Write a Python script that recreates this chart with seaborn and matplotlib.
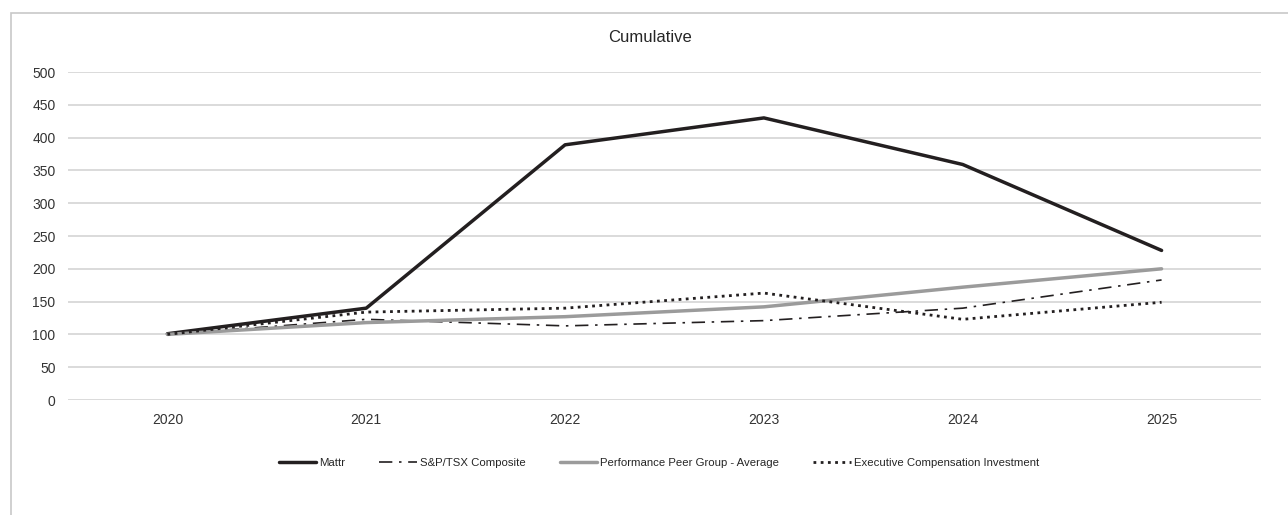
import pandas as pd
import seaborn as sns
import matplotlib.pyplot as plt
from matplotlib.patches import Rectangle

# valores (índice base 100 em 2020)
years = ['2020', '2021', '2022', '2023', '2024', '2025']
mattr = [101, 140, 389, 430, 359, 228]
sptsx = [100, 123, 113, 121, 140, 183]
peer = [100, 118, 127, 142, 172, 200]
exec_comp = [100, 134, 140, 163, 123, 149]

series_names = ['Mattr', 'S&P/TSX Composite', 'Performance Peer Group - Average',
                'Executive Compensation Investment']
series_values = [mattr, sptsx, peer, exec_comp]

sns.set_theme(style='white')
plt.rcParams['font.family'] = ['Liberation Sans', 'DejaVu Sans']

fig = plt.figure(figsize=(12.88, 5.15), dpi=100)
ax = fig.add_axes([68 / 1288, 1 - 400 / 515, (1261 - 68) / 1288, 328 / 515])

# moldura externa cinza (cortada à direita e embaixo)
fig.patches.append(Rectangle((11 / 1288, -0.2), 1.2, 1.2 - 13 / 515,
                             transform=fig.transFigure, fill=False,
                             edgecolor='#c8c8c8', linewidth=1.2, zorder=0))

estilos = {
    'Mattr': dict(color='#231f20', linewidth=2.5, linestyle='-'),
    'S&P/TSX Composite': dict(color='#231f20', linewidth=1.2, linestyle=(0, (8, 4, 1.5, 4))),
    'Performance Peer Group - Average': dict(color='#9b9b9b', linewidth=2.5, linestyle='-'),
    'Executive Compensation Investment': dict(color='#231f20', linewidth=2.0, linestyle=(0, (1, 1.6))),
}

x_idx = list(range(len(years)))
for nome, vals in zip(series_names, series_values):
    df = pd.DataFrame({'x': x_idx, 'y': vals})
    sns.lineplot(data=df, x='x', y='y', ax=ax, label=nome, **estilos[nome])

ax.set_xlim(-0.5, len(years) - 0.5)
ax.set_ylim(0, 500)
ax.set_yticks(range(0, 501, 50))
ax.set_xticks(x_idx)
ax.set_xticklabels(years)
ax.grid(axis='y', color='#d4d4d4', linewidth=1.2)
ax.set_axisbelow(True)
for s in ax.spines.values():
    s.set_visible(False)
ax.tick_params(axis='both', length=0, labelsize=10, labelcolor='#333333', pad=9)
ax.set_xlabel('')
ax.set_ylabel('')

fig.text(650 / 1288, 1 - 37 / 515, 'Cumulative', ha='center', va='center',
         fontsize=12, color='#262626')

ax.legend_.remove()
handles, labels = ax.get_legend_handles_labels()
fig.legend(handles, labels, loc='center', bbox_to_anchor=(659 / 1288, 1 - 463 / 515),
           ncol=4, frameon=False, handlelength=3.3, handletextpad=0.25,
           columnspacing=3.0, fontsize=8.2, labelcolor='#262626')

fig.savefig('out.png', dpi=100, facecolor='white')
